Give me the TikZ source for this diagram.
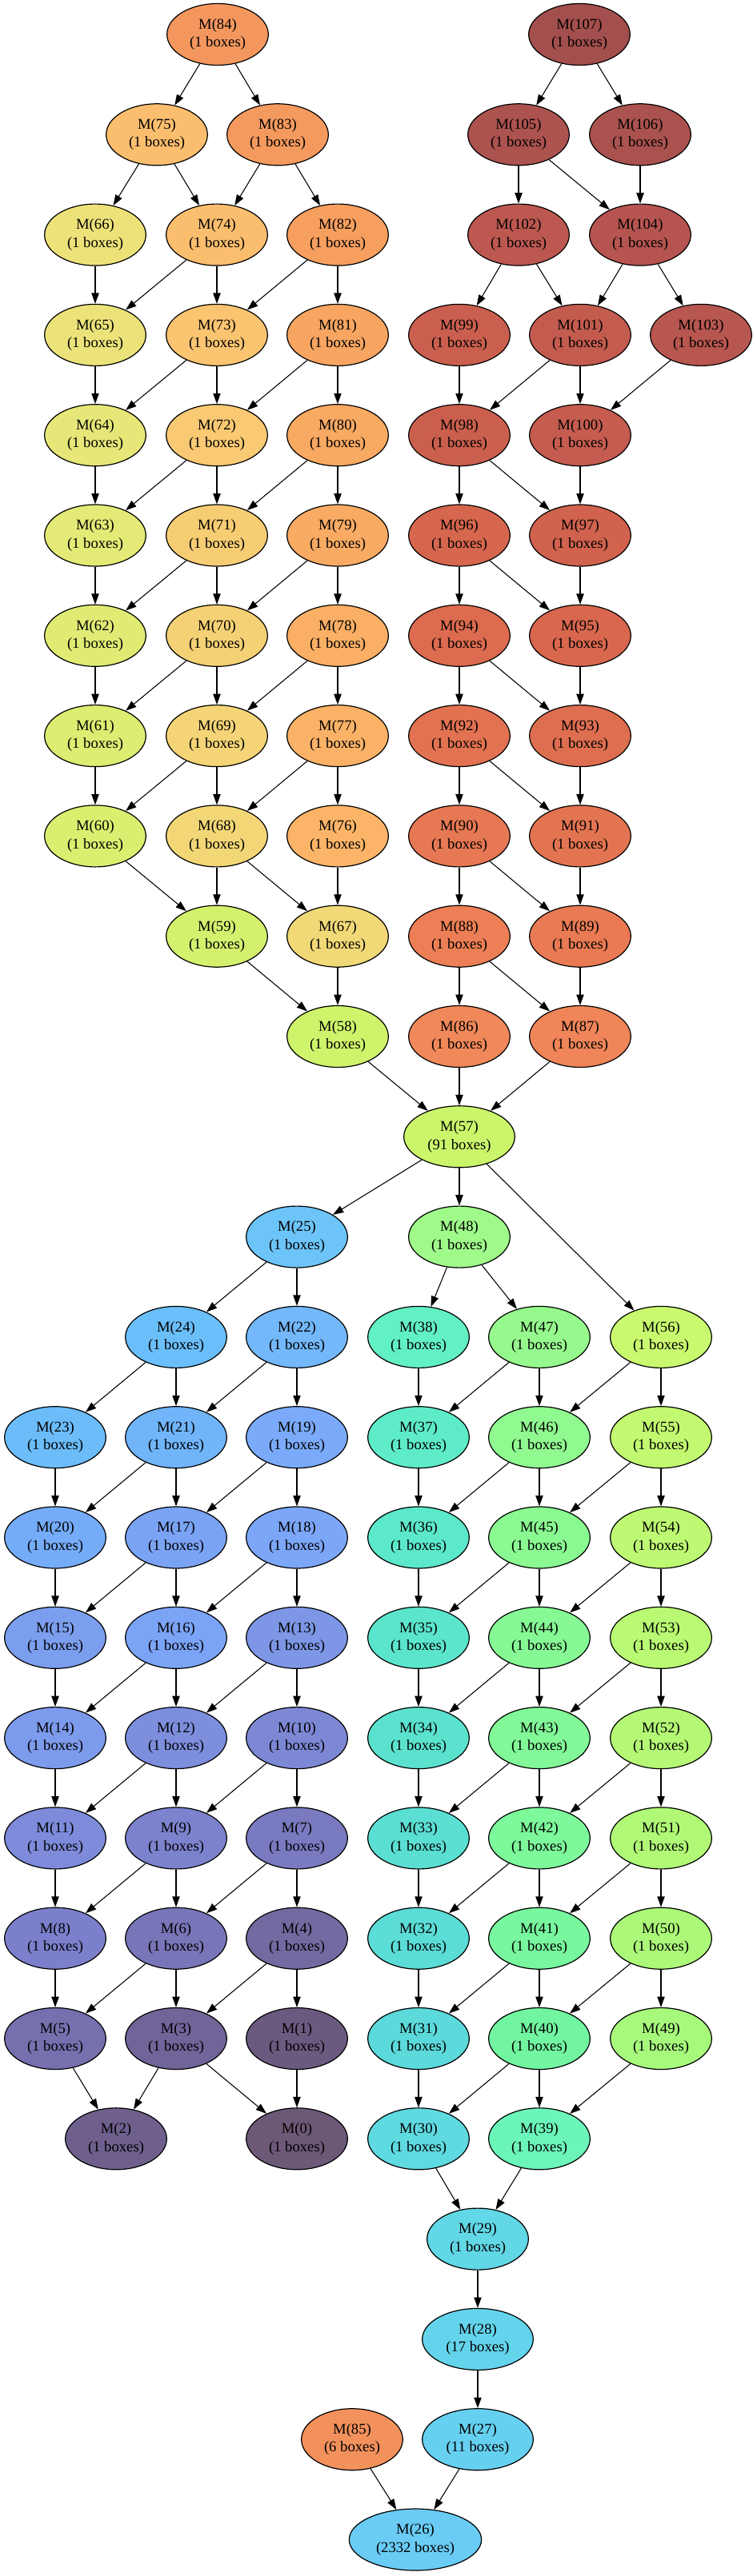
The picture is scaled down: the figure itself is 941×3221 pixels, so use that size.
\documentclass[tikz,border=0pt]{standalone}
\usepackage{fontspec}
\setmainfont{Liberation Serif}
\usetikzlibrary{shapes.geometric,arrows.meta}

\tikzset{
  mbox/.style={ellipse,draw=black,line width=0.9pt,inner sep=0pt,minimum width=95pt,minimum height=57.75pt,align=center,font=\fontsize{14}{16.8}\selectfont},
  widebox/.style={minimum width=104pt},
  link/.style={line width=0.8pt,-{Triangle[length=10pt,width=7pt]}}
}

% #1 extra style, #2 number, #3 x, #4 row, #5 boxes, #6 fill
\newcommand{\mnode}[6][]{%
  \definecolor{fill#2}{HTML}{#6}%
  \node[mbox,fill=fill#2,#1] (m#2) at (#3,{43+125.3*#4}) {M(#2)\\(#5 boxes)};}

\begin{document}
\begin{tikzpicture}[x=0.75pt,y=-0.75pt]
\useasboundingbox (0,0) rectangle (941,3221);

% upper left cluster
\mnode{84}{272}{0}{1}{F4975E}
\mnode{75}{196}{1}{1}{FBBE6F}
\mnode{83}{347}{1}{1}{F59A5E}
\mnode{66}{119}{2}{1}{EDE27A}
\mnode{74}{271}{2}{1}{FBBE6E}
\mnode{82}{422}{2}{1}{F69F5F}
\mnode{65}{119}{3}{1}{EBE37A}
\mnode{73}{271}{3}{1}{FAC471}
\mnode{81}{422}{3}{1}{F7A561}
\mnode{64}{119}{4}{1}{E6E778}
\mnode{72}{271}{4}{1}{F9C973}
\mnode{80}{422}{4}{1}{F8A962}
\mnode{63}{119}{5}{1}{E3EA76}
\mnode{71}{271}{5}{1}{F7CD74}
\mnode{79}{422}{5}{1}{F9AB63}
\mnode{62}{119}{6}{1}{E0EB74}
\mnode{70}{271}{6}{1}{F5D175}
\mnode{78}{422}{6}{1}{FAAF65}
\mnode{61}{119}{7}{1}{DCED72}
\mnode{69}{271}{7}{1}{F4D476}
\mnode{77}{422}{7}{1}{FBB267}
\mnode{60}{119}{8}{1}{D9EF70}
\mnode{68}{271}{8}{1}{F3D777}
\mnode{76}{422}{8}{1}{FCB568}
\mnode{59}{271}{9}{1}{D4F16E}
\mnode{67}{422}{9}{1}{F1D977}
\mnode{58}{422}{10}{1}{CFF46C}

% upper right cluster
\mnode{107}{724}{0}{1}{A34F4D}
\mnode{105}{648}{1}{1}{AC524F}
\mnode{106}{800}{1}{1}{AA524F}
\mnode{102}{648}{2}{1}{BC5850}
\mnode{104}{800}{2}{1}{B55450}
\mnode{99}{574}{3}{1}{CA5F4F}
\mnode{101}{725}{3}{1}{C45B4F}
\mnode{103}{876}{3}{1}{B85650}
\mnode{98}{574}{4}{1}{CB5F4E}
\mnode{100}{725}{4}{1}{C55C4F}
\mnode{96}{574}{5}{1}{D6664E}
\mnode{97}{725}{5}{1}{D0624E}
\mnode{94}{574}{6}{1}{DD6B4F}
\mnode{95}{725}{6}{1}{D8674E}
\mnode{92}{574}{7}{1}{E27251}
\mnode{93}{725}{7}{1}{DE6E50}
\mnode{90}{574}{8}{1}{E67853}
\mnode{91}{725}{8}{1}{E37452}
\mnode{88}{574}{9}{1}{EC7F55}
\mnode{89}{725}{9}{1}{E97A54}
\mnode{86}{574}{10}{1}{F0885A}
\mnode{87}{725}{10}{1}{EF8558}

\mnode[widebox]{57}{574}{11}{91}{CBF56B}

% lower left cluster
\mnode{25}{371}{12}{1}{6CC4F8}
\mnode{24}{220}{13}{1}{6ABEF9}
\mnode{22}{371}{13}{1}{73B8FA}
\mnode{23}{69}{14}{1}{6BBCF9}
\mnode{21}{220}{14}{1}{70B4FA}
\mnode{19}{371}{14}{1}{7AAAF9}
\mnode{20}{69}{15}{1}{75ACF9}
\mnode{17}{220}{15}{1}{7AA3F3}
\mnode{18}{371}{15}{1}{7CA6F8}
\mnode{15}{69}{16}{1}{7C9EEE}
\mnode{16}{220}{16}{1}{7BA4F6}
\mnode{13}{371}{16}{1}{7D96E6}
\mnode{14}{69}{17}{1}{7D9BEC}
\mnode{12}{220}{17}{1}{7D8EDD}
\mnode{10}{371}{17}{1}{7D88D5}
\mnode{11}{69}{18}{1}{7D8BDA}
\mnode{9}{220}{18}{1}{7C82CD}
\mnode{7}{371}{18}{1}{797AC0}
\mnode{8}{69}{19}{1}{7C80CC}
\mnode{6}{220}{19}{1}{7875B8}
\mnode{4}{371}{19}{1}{746AA1}
\mnode{5}{69}{20}{1}{7670AF}
\mnode{3}{220}{20}{1}{716499}
\mnode{1}{371}{20}{1}{6B5A80}
\mnode{2}{145}{21}{1}{6E5F8D}
\mnode{0}{371}{21}{1}{6C5877}

% lower right cluster
\mnode{48}{574}{12}{1}{9FFA8A}
\mnode{38}{523}{13}{1}{62F0C5}
\mnode{47}{674}{13}{1}{96F98D}
\mnode{56}{826}{13}{1}{C8F96F}
\mnode{37}{523}{14}{1}{5EECC8}
\mnode{46}{674}{14}{1}{90F990}
\mnode{55}{826}{14}{1}{C2F970}
\mnode{36}{523}{15}{1}{5CE8CA}
\mnode{45}{674}{15}{1}{8BF992}
\mnode{54}{826}{15}{1}{BDF972}
\mnode{35}{523}{16}{1}{5BE5CC}
\mnode{44}{674}{16}{1}{86F995}
\mnode{53}{826}{16}{1}{B9F973}
\mnode{34}{523}{17}{1}{5BE2CE}
\mnode{43}{674}{17}{1}{82F898}
\mnode{52}{826}{17}{1}{B4F875}
\mnode{33}{523}{18}{1}{5BDFD3}
\mnode{42}{674}{18}{1}{7DF89B}
\mnode{51}{826}{18}{1}{B0F876}
\mnode{32}{523}{19}{1}{5BDCD6}
\mnode{41}{674}{19}{1}{78F79E}
\mnode{50}{826}{19}{1}{ACF878}
\mnode{31}{523}{20}{1}{5CD9DA}
\mnode{40}{674}{20}{1}{72F5A1}
\mnode{49}{826}{20}{1}{A7F97C}
\mnode{30}{523}{21}{1}{5FDAE0}
\mnode{39}{674}{21}{1}{6CF5B9}
\mnode{29}{597}{22}{1}{62D7E6}
\mnode[widebox]{28}{597}{23}{17}{64D4EC}
\mnode[widebox]{27}{597}{24}{11}{66D0F0}
\mnode{85}{440}{24}{6}{F3915C}
\mnode[minimum width=124pt]{26}{519}{25}{2332}{6ACCF5}

% arrows
\foreach \a/\b in {84/75,84/83,75/66,75/74,83/74,83/82,66/65,74/65,74/73,82/73,82/81,
  65/64,73/64,73/72,81/72,81/80,64/63,72/63,72/71,80/71,80/79,
  63/62,71/62,71/70,79/70,79/78,62/61,70/61,70/69,78/69,78/77,
  61/60,69/60,69/68,77/68,77/76,60/59,68/59,68/67,76/67,59/58,67/58,58/57}
  \draw[link] (m\a) -- (m\b);
\foreach \a/\b in {107/105,107/106,105/102,105/104,106/104,102/99,102/101,104/101,104/103,
  99/98,101/98,101/100,103/100,98/96,98/97,100/97,96/94,96/95,97/95,
  94/92,94/93,95/93,92/90,92/91,93/91,90/88,90/89,91/89,88/86,88/87,89/87,86/57,87/57}
  \draw[link] (m\a) -- (m\b);
\foreach \a/\b in {57/25,57/48,57/56,25/24,25/22,24/23,24/21,22/21,22/19,
  23/20,21/20,21/17,19/17,19/18,20/15,17/15,17/16,18/16,18/13,
  15/14,16/14,16/12,13/12,13/10,14/11,12/11,12/9,10/9,10/7,
  11/8,9/8,9/6,7/6,7/4,8/5,6/5,6/3,4/3,4/1,5/2,3/2,3/0,1/0}
  \draw[link] (m\a) -- (m\b);
\foreach \a/\b in {48/38,48/47,38/37,47/37,47/46,56/46,56/55,
  37/36,46/36,46/45,55/45,55/54,36/35,45/35,45/44,54/44,54/53,
  35/34,44/34,44/43,53/43,53/52,34/33,43/33,43/42,52/42,52/51,
  33/32,42/32,42/41,51/41,51/50,32/31,41/31,41/40,50/40,50/49,
  31/30,40/30,40/39,49/39,30/29,39/29,29/28,28/27,27/26,85/26}
  \draw[link] (m\a) -- (m\b);

\end{tikzpicture}
\end{document}
